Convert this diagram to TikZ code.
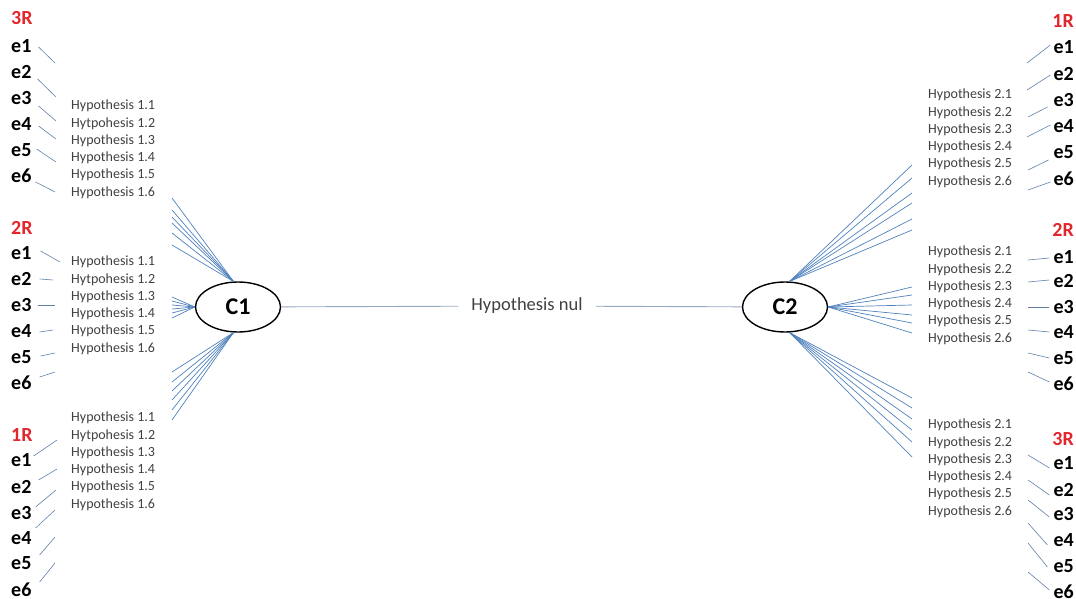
\documentclass[tikz,border=0pt]{standalone}
\usepackage{fontspec}
\setmainfont{Carlito}
\usetikzlibrary{shapes.geometric}
\definecolor{fanblue}{RGB}{79,129,189}
\definecolor{elineblue}{RGB}{96,128,170}
\definecolor{hgray}{RGB}{64,64,64}
\definecolor{rred}{RGB}{226,38,44}
\definecolor{nulline}{RGB}{150,168,192}
\begin{document}
\begin{tikzpicture}[x=1pt,y=-1pt,
  elab/.style={font=\fontsize{20}{24}\selectfont\bfseries, inner sep=0pt},
  rlab/.style={elab, text=rred},
  hyp/.style={font=\fontsize{14}{16}\selectfont, text=hgray, inner sep=0pt, anchor=west},
  cnode/.style={draw, ellipse, line width=1.4pt, minimum width=85pt, minimum height=50pt, inner sep=0pt, font=\fontsize{24}{28}\selectfont\bfseries},
  fan/.style={draw=fanblue, line width=0.7pt},
  eline/.style={draw=elineblue, line width=0.6pt},
  nulln/.style={draw=nulline, line width=0.9pt}
]
\useasboundingbox (0,0) rectangle (1076,599);

% central nodes
\node[cnode] (C1) at (238,307) {C1};
\node[cnode] (C2) at (785,307) {C2};
\node[font=\fontsize{18.5}{22}\selectfont, text=hgray, inner xsep=13pt, inner ysep=2pt] (nul) at (527,306) {Hypothesis nul};
\draw[nulln] (C1) -- (nul);
\draw[nulln] (nul) -- (C2);

% left labels
\node[rlab, anchor=west] (L3R) at (11,18) {3R};
\foreach \y [count=\i] in {46,72,98,124,150,176} \node[elab, anchor=west] (L3e\i) at (11,\y) {e\i};
\node[rlab, anchor=west] (L2R) at (11,228) {2R};
\foreach \y [count=\i] in {253,279,305,331,357,383} \node[elab, anchor=west] (L2e\i) at (11,\y) {e\i};
\node[rlab, anchor=west] (L1R) at (11,435) {1R};
\foreach \y [count=\i] in {460,487,513,538,563,590} \node[elab, anchor=west] (L1e\i) at (11,\y) {e\i};

% right labels
\node[rlab, anchor=east] (R1R) at (1074,21) {1R};
\foreach \y [count=\i] in {47,74,100,126,152,179} \node[elab, anchor=east] (R1e\i) at (1074,\y) {e\i};
\node[rlab, anchor=east] (R2R) at (1074,230) {2R};
\foreach \y [count=\i] in {257,281,307,332,358,384} \node[elab, anchor=east] (R2e\i) at (1074,\y) {e\i};
\node[rlab, anchor=east] (R3R) at (1074,439) {3R};
\foreach \y [count=\i] in {463,490,514,540,566,592} \node[elab, anchor=east] (R3e\i) at (1074,\y) {e\i};

% hypothesis texts left
\foreach \b/\y in {a/106,b/262,c/418}{
  \node[hyp] (H\b1) at (71,\y) {Hypothesis 1.1};
  \node[hyp] (H\b2) at (71,\y+17.3) {Hytpohesis 1.2};
  \node[hyp] (H\b3) at (71,\y+34.6) {Hypothesis 1.3};
  \node[hyp] (H\b4) at (71,\y+51.9) {Hypothesis 1.4};
  \node[hyp] (H\b5) at (71,\y+69.2) {Hypothesis 1.5};
  \node[hyp] (H\b6) at (71,\y+86.5) {Hypothesis 1.6};
}
% hypothesis texts right
\foreach \b/\y in {d/95,e/252,f/425}{
  \foreach \k in {1,...,6}
    \node[hyp] (H\b\k) at (928,\y+17.3*\k-17.3) {Hypothesis 2.\k};
}

% fans C1
\foreach \y [count=\i] in {198,210,217,223,233,245}{
  \coordinate (F1t\i) at (172,\y); \draw[fan] (C1.100) -- (F1t\i);}
\foreach \y [count=\i] in {297,301,305,309,313,318}{
  \coordinate (F1m\i) at (172,\y); \draw[fan] (C1.west) -- (F1m\i);}
\foreach \y [count=\i] in {372,382,391,400,410,420}{
  \coordinate (F1b\i) at (172,\y); \draw[fan] (C1.260) -- (F1b\i);}
% fans C2
\foreach \y [count=\i] in {165,178,193,203,219,230}{
  \coordinate (F2t\i) at (912,\y); \draw[fan] (C2.80) -- (F2t\i);}
\foreach \y [count=\i] in {287,295,305,315,323,333}{
  \coordinate (F2m\i) at (912,\y); \draw[fan] (C2.east) -- (F2m\i);}
\foreach \y [count=\i] in {398,408,419,430,442,457}{
  \coordinate (F2b\i) at (912,\y); \draw[fan] (C2.280) -- (F2b\i);}

% short e-lines left
\foreach \dx/\dy/\ex/\ey [count=\i] in {7/1/55/63, 6/7/56/97, 7/8/56/121, 7/2/56/139, 5/-1/56/162, 4/6/55/192}{
  \coordinate (L3t\i) at (\ex,\ey); \draw[eline] ([shift={(\dx,\dy)}]L3e\i.east) -- (L3t\i);}
\foreach \dx/\dy/\ex/\ey [count=\i] in {9/-2/60/262, 8/0/53/280, 6/0/55/305, 8/1/53/330, 9/-1/55/353, 8/-6/55/372}{
  \coordinate (L2t\i) at (\ex,\ey); \draw[eline] ([shift={(\dx,\dy)}]L2e\i.east) -- (L2t\i);}
\foreach \dx/\dy/\ex/\ey [count=\i] in {2/-4/57/440, 7/-7/57/469, 4/-6/56/490, 4/-10/55/510, 8/-8/55/537, 8/-8/55/563}{
  \coordinate (L1t\i) at (\ex,\ey); \draw[eline] ([shift={(\dx,\dy)}]L1e\i.east) -- (L1t\i);}
% short e-lines right
\foreach \dx/\dy/\ex/\ey [count=\i] in {-3/-2/1027/63, -3/1/1027/90, -6/7/1028/117, -3/-1/1027/137, -5/8/1028/170, -3/3/1028/190}{
  \coordinate (R1t\i) at (\ex,\ey); \draw[eline] ([shift={(\dx,\dy)}]R1e\i.west) -- (R1t\i);}
\foreach \dx/\dy/\ex/\ey [count=\i] in {-4/1/1028/260, -4/-1/1028/282, -4/0/1028/307, -4/0/1028/330, -4/0/1028/353, -4/-2/1028/372}{
  \coordinate (R2t\i) at (\ex,\ey); \draw[eline] ([shift={(\dx,\dy)}]R2e\i.west) -- (R2t\i);}
\foreach \dx/\dy/\ex/\ey [count=\i] in {-4/5/1028/455, -4/5/1028/480, -4/3/1028/500, -6/5/1028/523, -6/1/1028/543, -4/-2/1028/572}{
  \coordinate (R3t\i) at (\ex,\ey); \draw[eline] ([shift={(\dx,\dy)}]R3e\i.west) -- (R3t\i);}
\end{tikzpicture}
\end{document}
